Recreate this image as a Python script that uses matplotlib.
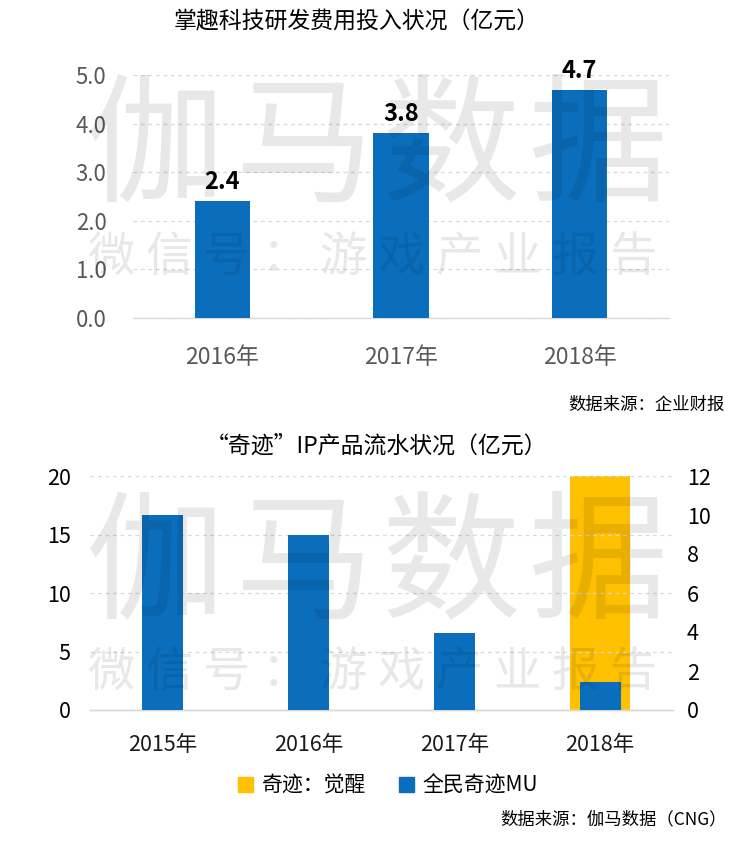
import matplotlib
matplotlib.use("Agg")
import matplotlib.pyplot as plt
from matplotlib.patches import Patch

plt.rcParams['font.family'] = ['Noto Sans CJK SC', 'DejaVu Sans']

# ---- data ----
rd_years = ["2016年", "2017年", "2018年"]
rd_values = [2.4, 3.8, 4.7]
rd_yticks = [0, 1, 2, 3, 4, 5]

mu_years = ["2015年", "2016年", "2017年", "2018年"]
mu_quanmin = [16.7, 15.0, 6.6, 2.4]      # 全民奇迹MU (left axis)
mu_juexing = [0, 0, 0, 12.0]            # 奇迹：觉醒 (right axis)
left_ticks = [0, 5, 10, 15, 20]
right_ticks = [0, 2, 4, 6, 8, 10, 12]

BLUE = "#0A6EBD"
YELLOW = "#FFC000"
GRID = "#D9D9D9"

fig = plt.figure(figsize=(7.5, 8.41), dpi=100)
W, H = 750, 841

def fx(x):
    return x / W

def fy(y):
    return 1 - y / H

# ---------------- top chart ----------------
ax = fig.add_axes([fx(133), fy(318), fx(669) - fx(133), fy(75) - fy(318)])
xs = list(range(len(rd_years)))
ax.bar(xs, rd_values, width=0.31, color=BLUE, zorder=3)
for x, v in zip(xs, rd_values):
    ax.annotate(f"{v:.1f}", (x, v), xytext=(0, 5), textcoords="offset points",
                ha="center", va="bottom", fontsize=17, fontweight="bold", color="#000000")
ax.set_xlim(-0.5, len(rd_years) - 0.5)
ax.set_ylim(0, 5)
ax.set_yticks(rd_yticks)
ax.set_yticklabels([f"{t:.1f}" for t in rd_yticks])
ax.set_xticks(xs)
ax.set_xticklabels(rd_years)
ax.tick_params(axis="y", length=0, pad=19, labelsize=16, labelcolor="#595959")
ax.tick_params(axis="x", length=0, pad=20, labelsize=16.5, labelcolor="#595959")
ax.yaxis.grid(True, linestyle=(0, (3, 3)), color=GRID, linewidth=0.9, zorder=0)
ax.set_axisbelow(True)
for s in ["top", "right", "left"]:
    ax.spines[s].set_visible(False)
ax.spines["bottom"].set_color(GRID)
ax.spines["bottom"].set_linewidth(1.0)

fig.text(fx(357), fy(22), "掌趣科技研发费用投入状况（亿元）", ha="center", va="center",
         fontsize=16.5, color="#000000")
fig.text(fx(725), fy(405), "数据来源：企业财报", ha="right", va="center",
         fontsize=12.5, color="#000000")

# ---------------- bottom chart ----------------
ax1 = fig.add_axes([fx(90), fy(710), fx(673) - fx(90), fy(476) - fy(710)])
ax2 = ax1.twinx()
xs2 = list(range(len(mu_years)))
ax2.bar(xs2, mu_juexing, width=0.41, color=YELLOW, zorder=2)
ax1.bar(xs2, mu_quanmin, width=0.28, color=BLUE, zorder=3)
ax1.set_zorder(ax2.get_zorder() + 1)
ax1.patch.set_visible(False)

ax1.set_xlim(-0.5, len(mu_years) - 0.5)
ax1.set_ylim(0, 20)
ax2.set_ylim(0, 12)
ax1.set_yticks(left_ticks)
ax2.set_yticks(right_ticks)
ax1.set_xticks(xs2)
ax1.set_xticklabels(mu_years)
ax1.tick_params(axis="y", length=0, pad=14, labelsize=15.5, labelcolor="#000000")
ax2.tick_params(axis="y", length=0, pad=10, labelsize=15.5, labelcolor="#000000")
ax1.tick_params(axis="x", length=0, pad=17, labelsize=15.5, labelcolor="#1a1a1a")
ax1.yaxis.grid(True, linestyle=(0, (3, 3)), color=GRID, linewidth=0.9)
ax2.set_axisbelow(True)
ax1.set_axisbelow(True)
for a in (ax1, ax2):
    for s in ["top", "right", "left"]:
        a.spines[s].set_visible(False)
    a.spines["bottom"].set_color(GRID)
    a.spines["bottom"].set_linewidth(1.0)

fig.text(fx(376), fy(446), "“奇迹”IP产品流水状况（亿元）", ha="center", va="center",
         fontsize=16.5, color="#000000")

handles = [Patch(color=YELLOW, label="奇迹：觉醒"), Patch(color=BLUE, label="全民奇迹MU")]
fig.legend(handles=handles, loc="center", bbox_to_anchor=(fx(388), fy(786)), ncol=2,
           frameon=False, fontsize=15, handlelength=0.7, handleheight=0.7,
           handletextpad=0.4, columnspacing=1.6)
fig.text(fx(727), fy(819), "数据来源：伽马数据（CNG）", ha="right", va="center",
         fontsize=12.5, color="#000000")

# ---------------- watermarks ----------------
def watermark(big_y, small_y):
    big = "伽马数据"
    x0, x1 = 82, 672
    step = (x1 - x0) / len(big)
    for i, ch in enumerate(big):
        fig.text(fx(x0 + step * (i + 0.5)), fy(big_y), ch, ha="center", va="center",
                 fontsize=100, color="#000000", alpha=0.09, zorder=10)
    small = "微信号：游戏产业报告"
    s0, s1 = 82, 662
    step2 = (s1 - s0) / len(small)
    for i, ch in enumerate(small):
        fig.text(fx(s0 + step2 * (i + 0.5)), fy(small_y), ch, ha="center", va="center",
                 fontsize=34, color="#000000", alpha=0.09, zorder=10)

watermark(152, 258)
watermark(569, 673)

fig.savefig("out.png", dpi=100)
